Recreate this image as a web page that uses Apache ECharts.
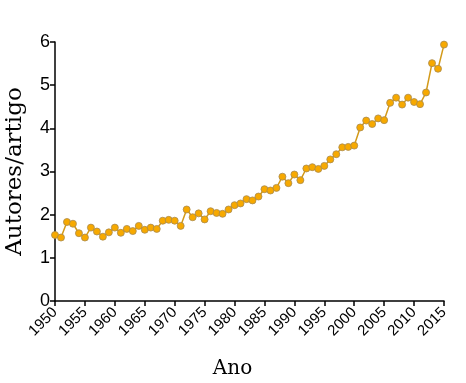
<!DOCTYPE html>
<html><head><meta charset="utf-8">
<script src="https://cdn.jsdelivr.net/npm/echarts@6/dist/echarts.min.js"></script>
<style>html,body{margin:0;padding:0;background:#fff}#c{width:466px;height:383px}</style>
</head><body><div id="c"></div>
<script>
var years = [];
for (var y = 1950; y <= 2015; y++) years.push(y);
var authorsPerArticle = [
  1.53, 1.47, 1.83, 1.79, 1.57, 1.47, 1.70, 1.61, 1.49, 1.59,
  1.70, 1.58, 1.67, 1.62, 1.74, 1.65, 1.70, 1.67, 1.86, 1.88,
  1.86, 1.74, 2.12, 1.94, 2.03, 1.89, 2.08, 2.04, 2.02, 2.12,
  2.22, 2.26, 2.36, 2.33, 2.42, 2.59, 2.56, 2.62, 2.88, 2.73,
  2.93, 2.80, 3.07, 3.10, 3.06, 3.13, 3.28, 3.40, 3.56, 3.57,
  3.60, 4.02, 4.18, 4.10, 4.23, 4.19, 4.59, 4.71, 4.55, 4.71,
  4.61, 4.56, 4.83, 5.51, 5.38, 5.94
];
var xTicks = [1950,1955,1960,1965,1970,1975,1980,1985,1990,1995,2000,2005,2010,2015];
var yTicks = [0,1,2,3,4,5,6];

var data = years.map(function(yr, i){ return [yr, authorsPerArticle[i]]; });
var chart = echarts.init(document.getElementById('c'), null, {renderer:'canvas'});
chart.setOption({
  animation: false,
  backgroundColor: '#fff',
  grid: {left: 55, right: 22, top: 42, bottom: 82, containLabel: false, outerBoundsMode: 'none'},
  xAxis: {
    type: 'value', min: 1950, max: 2015, interval: 5,
    name: 'Ano', nameLocation: 'middle', nameGap: 58,
    nameTextStyle: {fontFamily: 'DejaVu Serif', fontSize: 20, color: '#000', padding: [0, 34, 0, 0]},
    axisLine: {lineStyle: {color: '#000', width: 1.5}},
    axisTick: {show: true, length: 5, lineStyle: {color: '#000', width: 1.5}},
    axisLabel: {rotate: 45, fontFamily: 'Liberation Sans', fontSize: 15, color: '#000', margin: 9,
      hideOverlap: false,
      formatter: function(v){ return xTicks.indexOf(v) >= 0 ? String(v) : ''; }},
    splitLine: {show: false}
  },
  yAxis: {
    type: 'value', min: 0, max: 6, interval: 1,
    name: 'Autores/artigo', nameLocation: 'middle', nameGap: 28,
    nameTextStyle: {fontFamily: 'DejaVu Serif', fontSize: 23, color: '#000'},
    axisLine: {show: true, lineStyle: {color: '#000', width: 1.5}},
    axisTick: {show: true, length: 5, lineStyle: {color: '#000', width: 1.5}},
    axisLabel: {fontFamily: 'Liberation Sans', fontSize: 18, color: '#000', margin: 5,
      formatter: function(v){ return yTicks.indexOf(v) >= 0 ? String(v) : ''; }},
    splitLine: {show: false}
  },
  series: [{
    type: 'line', data: data,
    symbol: 'circle', symbolSize: 7,
    lineStyle: {color: '#D39A1A', width: 1.5},
    itemStyle: {color: '#F7A900', borderColor: '#A88A50', borderWidth: 0.8}
  }]
});
</script></body></html>
